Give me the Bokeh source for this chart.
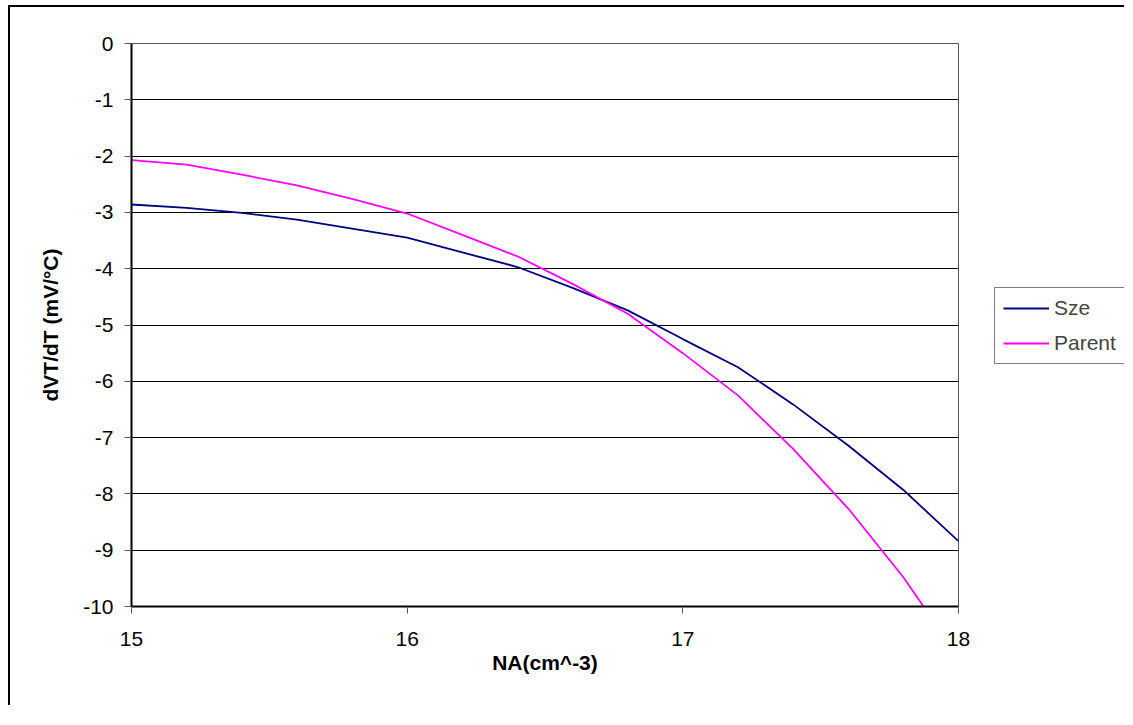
from bokeh.plotting import figure
from bokeh.layouts import column, row
from bokeh.models import Legend, LegendItem, Range1d, FixedTicker
from bokeh.embed import file_html
from bokeh.resources import INLINE

# data
na = [15.0, 15.2, 15.4, 15.6, 15.8, 16.0, 16.2, 16.4, 16.6, 16.8, 17.0, 17.2, 17.4, 17.6, 17.8, 18.0]
sze = [-2.86, -2.92, -3.01, -3.13, -3.29, -3.45, -3.71, -3.97, -4.34, -4.74, -5.25, -5.75, -6.41, -7.14, -7.93, -8.84]
parent = [-2.07, -2.15, -2.33, -2.52, -2.76, -3.02, -3.40, -3.78, -4.27, -4.80, -5.50, -6.25, -7.20, -8.26, -9.48, -10.90]
x_ticks = [15, 16, 17, 18]
y_ticks = [0, -1, -2, -3, -4, -5, -6, -7, -8, -9, -10]
series = [("Sze", sze, "#000080"), ("Parent", parent, "#FF00FF")]

FONT = "Liberation Sans"

p = figure(width=985, height=700, output_backend="svg", toolbar_location=None,
           x_range=Range1d(15, 18), y_range=Range1d(-10, 0),
           min_border_left=121, min_border_right=37, min_border_top=36, min_border_bottom=101)
p.styles = {"border-top": "2px solid black", "border-left": "2px solid black"}

p.background_fill_color = "white"
p.border_fill_color = "white"
p.outline_line_color = "#555555"
p.outline_line_width = 1

for name, ys, col in series:
    p.line(na, ys, line_color=col, line_width=1.8)

p.xaxis.ticker = FixedTicker(ticks=x_ticks)
p.yaxis.ticker = FixedTicker(ticks=y_ticks)
p.xaxis.major_label_overrides = {t: str(t) for t in x_ticks}
p.yaxis.major_label_overrides = {t: str(t) for t in y_ticks}
p.xgrid.grid_line_color = None
p.ygrid.grid_line_color = "black"
p.ygrid.grid_line_width = 1

for ax in (p.xaxis[0], p.yaxis[0]):
    ax.axis_line_color = "black"
    ax.axis_line_width = 2
    ax.major_tick_line_color = "#555555"
    ax.major_tick_out = 7
    ax.major_tick_in = 0
    ax.minor_tick_line_color = None
    ax.major_label_text_font = FONT
    ax.major_label_text_font_size = "21px"
    ax.major_label_text_color = "black"
    ax.axis_label_text_font = FONT
    ax.axis_label_text_font_size = "21px"
    ax.axis_label_text_font_style = "bold"
    ax.axis_label_text_color = "black"

p.xaxis.axis_label = "NA(cm^-3)"
p.yaxis.axis_label = "dVT/dT (mV/°C)"
p.xaxis.major_label_standoff = 18
p.yaxis.major_label_standoff = 11
p.xaxis.axis_label_standoff = 2
p.yaxis.axis_label_standoff = 18

# legend panel (a small companion figure whose series lie outside its view)
p2 = figure(width=131, height=700, output_backend="svg", toolbar_location=None,
            x_range=Range1d(0, 1), y_range=Range1d(0, 1),
            x_axis_location=None, y_axis_location=None,
            min_border=0, min_border_left=0, min_border_right=0,
            min_border_top=0, min_border_bottom=0)
p2.styles = {"border-top": "2px solid black"}
p2.outline_line_color = None
p2.grid.grid_line_color = None
p2.background_fill_color = "white"
p2.border_fill_color = "white"

items = []
for name, ys, col in series:
    r = p2.line(na, ys, line_color=col, line_width=1.8)
    items.append(LegendItem(label=name, renderers=[r]))

legend = Legend(items=items, location=(1, 242))
legend.label_text_font = FONT
legend.label_text_font_size = "21px"
legend.glyph_width = 46
legend.label_standoff = 5
legend.padding = 8
legend.spacing = 11
legend.margin = 0
legend.border_line_color = "black"
legend.border_line_width = 1
legend.background_fill_alpha = 1
p2.add_layout(legend, "center")

layout = column(row(p, p2, spacing=0),
                styles={"padding-left": "8px", "padding-top": "5px", "background-color": "white"})

open("out.html", "w").write(file_html(layout, INLINE))
